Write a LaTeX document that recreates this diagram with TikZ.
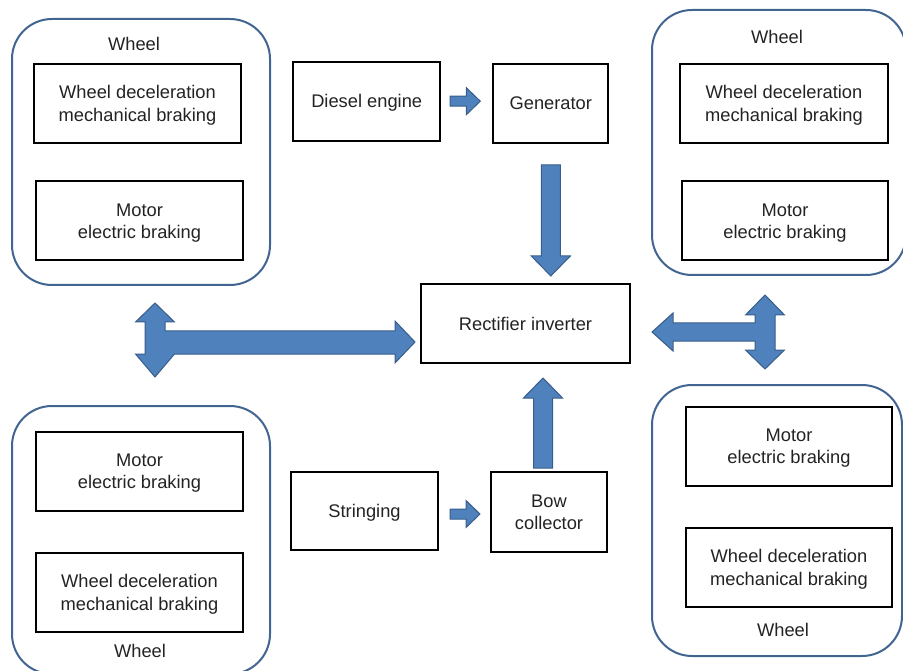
\documentclass[tikz,border=0pt]{standalone}
\usepackage{fontspec}
\setmainfont{Liberation Sans}
\usetikzlibrary{calc,positioning}

\definecolor{wheelline}{RGB}{65,100,145}
\definecolor{arrowfill}{RGB}{79,129,189}
\definecolor{arrowline}{RGB}{56,93,138}
\definecolor{textgray}{RGB}{35,35,35}

% block arrow: tail, tip, shaft half width, head half width, head length
\newcommand{\blockarrow}[5]{%
  \coordinate (bahead) at ($(#2)!#5pt!(#1)$);
  \filldraw[blk] ($(#1)!#3pt!90:(#2)$) -- ($(bahead)!#3pt!-90:(#1)$) -- ($(bahead)!#4pt!-90:(#1)$) -- (#2)
    -- ($(bahead)!#4pt!90:(#1)$) -- ($(bahead)!#3pt!90:(#1)$) -- ($(#1)!#3pt!-90:(#2)$) -- cycle;
}

\begin{document}
\begin{tikzpicture}[
    x=1pt, y=-1pt,
    font=\fontsize{18.3}{22.5}\selectfont,
    text=textgray,
    wheel/.style={draw=wheelline, line width=2pt, rounded corners=40pt, inner sep=0pt},
    box/.style={draw=black, line width=2pt, align=center, inner sep=0pt, text depth=0pt, minimum width=207pt, minimum height=79pt},
    lbl/.style={inner sep=0pt},
    blk/.style={fill=arrowfill, draw=arrowline, line width=1pt}
  ]
    \useasboundingbox (0,0) rectangle (903,671);
    \clip (0,0) rectangle (903,671);

    % wheel groups
    \node[wheel, minimum width=258pt, minimum height=266pt] (tlwheel) at (141,152) {};
    \node[wheel, minimum width=254pt, minimum height=265pt] (trwheel) at (779,142.5) {};
    \node[wheel, minimum width=258pt, minimum height=268pt] (blwheel) at (141,540) {};
    \node[wheel, minimum width=250pt, minimum height=271pt] (brwheel) at (777,520.5) {};

    \node[lbl] (tllbl) at (134,44) {Wheel};
    \node[lbl] (trlbl) at (777,37) {Wheel};
    \node[lbl] (bllbl) at (140,651) {Wheel};
    \node[lbl] (brlbl) at (783,630) {Wheel};

    \node[box] (tlmech) at (137.5,103.5) {Wheel deceleration\\ mechanical braking};
    \node[box] (tlmotor) at (139.5,221) {Motor\\ electric braking};
    \node[box, minimum width=208pt] (trmech) at (784,103.5) {Wheel deceleration\\ mechanical braking};
    \node[box, minimum width=206pt] (trmotor) at (785,221) {Motor\\ electric braking};
    \node[box] (blmotor) at (139.5,471) {Motor\\ electric braking};
    \node[box] (blmech) at (139.5,592.5) {Wheel deceleration\\ mechanical braking};
    \node[box, minimum width=206pt] (brmotor) at (789,446) {Motor\\ electric braking};
    \node[box, minimum width=206pt] (brmech) at (789,567.5) {Wheel deceleration\\ mechanical braking};

    % power chain
    \node[box, minimum width=147pt] (diesel) at (366.7,101.2) {Diesel engine};
    \node[box, minimum width=115pt] (gen) at (550.8,103.3) {Generator};
    \node[box, minimum width=209pt] (rect) at (525.5,323.5) {Rectifier inverter};
    \node[box, minimum width=147pt, minimum height=78pt] (string) at (364.5,511) {Stringing};
    \node[box, minimum width=116pt, minimum height=80pt] (bow) at (549,512) {Bow\\ collector};

    \coordinate (a1s) at ($(diesel.east)+(9,0)$);
    \coordinate (a1e) at ($(diesel.east -| gen.west)+(-12,0)$);
    \blockarrow{a1s}{a1e}{5}{13.5}{14}
    \coordinate (a2s) at ($(string.east)+(11,3)$);
    \coordinate (a2e) at ($(string.east -| bow.west)+(-10,3)$);
    \blockarrow{a2s}{a2e}{5}{13.5}{14}
    \coordinate (a3s) at ($(gen.south)+(0,21)$);
    \coordinate (a3e) at ($(gen.south |- rect.north)+(0,-7)$);
    \blockarrow{a3s}{a3e}{9.5}{19.5}{20}
    \coordinate (a4s) at ($(bow.north)+(-6,-3)$);
    \coordinate (a4e) at ($(bow.north |- rect.south)+(-6,14)$);
    \blockarrow{a4s}{a4e}{9.5}{19.5}{20}

    % wheel links
    \filldraw[blk] (155,303) -- (174.5,322) -- (165,322) -- (165,331) -- (395,331) -- (395,321)
      -- (415,342) -- (395,363) -- (395,354) -- (174.5,354) -- (155,377) -- (135.5,354)
      -- (145,354) -- (145,322) -- (135.5,322) -- cycle;
    \filldraw[blk] (765,295) -- (784.5,315) -- (775,315) -- (775,350) -- (784.5,350) -- (765,369)
      -- (745.5,350) -- (755,350) -- (755,341) -- (673,341) -- (673,351) -- (652,332)
      -- (673,313) -- (673,323) -- (755,323) -- (755,315) -- (745.5,315) -- cycle;
\end{tikzpicture}
\end{document}
